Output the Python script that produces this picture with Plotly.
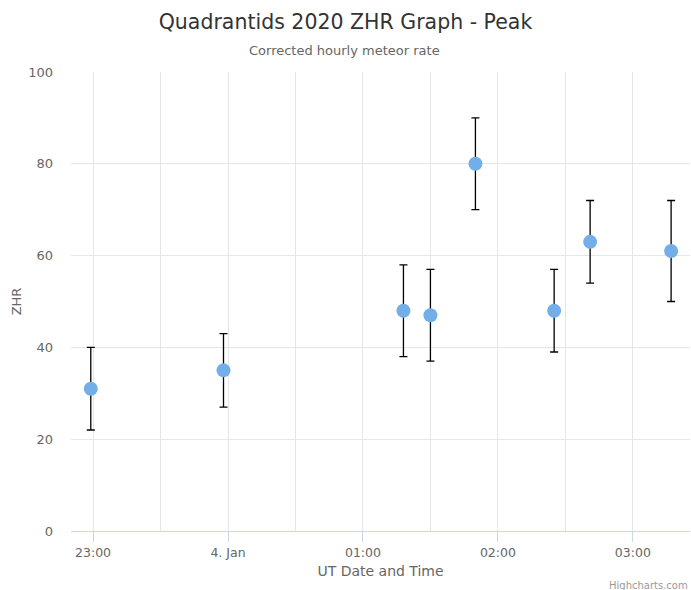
import plotly.graph_objects as go

times = ["2020-01-03 22:59", "2020-01-03 23:58", "2020-01-04 01:18", "2020-01-04 01:30",
         "2020-01-04 01:50", "2020-01-04 02:25", "2020-01-04 02:41", "2020-01-04 03:17"]
zhr = [31, 35, 48, 47, 80, 48, 63, 61]
zhr_low = [22, 27, 38, 37, 70, 39, 54, 50]
zhr_high = [40, 43, 58, 57, 90, 57, 72, 72]

tick_vals = ["2020-01-03 23:00", "2020-01-04 00:00", "2020-01-04 01:00", "2020-01-04 02:00", "2020-01-04 03:00"]
tick_text = ["23:00", "4. Jan", "01:00", "02:00", "03:00"]

FONT = "DejaVu Sans"

fig = go.Figure()
fig.add_trace(go.Scatter(
    x=times, y=zhr, mode="markers",
    marker=dict(size=14, color="#72aee8"),
    error_y=dict(type="data", symmetric=False,
                 array=[h - v for h, v in zip(zhr_high, zhr)],
                 arrayminus=[v - l for v, l in zip(zhr, zhr_low)],
                 color="#000000", thickness=1.3, width=4),
    showlegend=False,
))

fig.update_layout(
    width=691, height=590,
    margin=dict(l=71, r=1, t=72, b=59),
    paper_bgcolor="white", plot_bgcolor="white",
    font=dict(family=FONT, color="#666666"),
    title=dict(text="Quadrantids 2020 ZHR Graph - Peak", x=0.5, xanchor="center",
               y=1 - 22 / 590, yanchor="middle",
               font=dict(size=20.5, color="#333333", family=FONT)),
    xaxis=dict(
        type="date",
        range=["2020-01-03 22:50:12", "2020-01-04 03:25:24"],
        tickvals=tick_vals, ticktext=tick_text,
        showgrid=True, gridcolor="#e6e6e6",
        minor=dict(dtick=1800000, tick0="2020-01-03 23:00", showgrid=True, gridcolor="#e6e6e6", ticks=""),
        showline=True, linecolor="#ccd6eb", linewidth=1,
        ticks="outside", ticklen=10, tickcolor="#ccd6eb",
        tickfont=dict(size=12.5, color="#666666"),
        title=dict(text="UT Date and Time", font=dict(size=14, color="#666666"), standoff=7),
        zeroline=False,
    ),
    yaxis=dict(
        range=[0, 100], tickvals=[0, 20, 40, 60, 80, 100],
        showgrid=True, gridcolor="#e6e6e6", zeroline=False, showline=False,
        ticks="", ticklabelstandoff=17,
        tickfont=dict(size=13, color="#666666"),
        title=dict(text="ZHR", font=dict(size=13, color="#666666"), standoff=3),
    ),
    annotations=[
        dict(text="Corrected hourly meteor rate", xref="paper", yref="paper",
             x=(344 - 71) / 619, xanchor="center", y=1 + (72 - 50) / 459, yanchor="middle",
             showarrow=False, font=dict(size=13, color="#666666", family=FONT)),
        dict(text="Highcharts.com", xref="paper", yref="paper",
             x=(690 - 71) / 619, xanchor="right", y=-(585 - 531) / 459, yanchor="middle",
             showarrow=False, font=dict(size=10, color="#999999", family=FONT)),
    ],
)

fig.write_html("out.html")
